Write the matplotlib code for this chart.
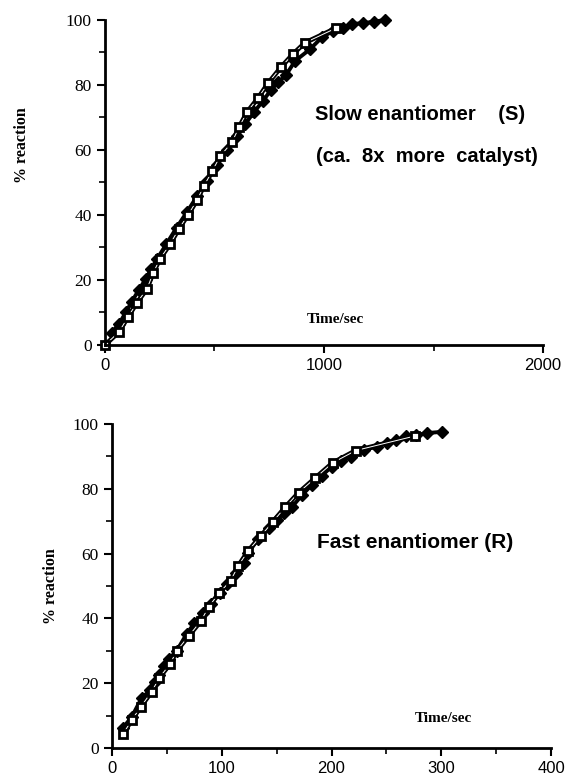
import matplotlib
matplotlib.use("Agg")
import matplotlib.pyplot as plt
from matplotlib.ticker import MultipleLocator

# top panel: slow enantiomer (S)
slow_sq_t = [0, 64, 105, 146, 192, 219, 251, 297, 338, 379, 420, 452, 489, 525,
             580, 612, 648, 699, 744, 804, 858, 913, 1055]
slow_sq_p = [0, 4, 8.6, 13, 17.3, 22, 26.5, 31, 35.8, 40, 44.5, 49, 53.4, 58,
             62.4, 67, 71.6, 76, 80.5, 85.5, 89.5, 93, 97.5]
slow_fd_t = [30, 64, 95, 122, 155, 187, 212, 236, 280, 327, 375, 420, 465, 512,
             557, 603, 640, 680, 720, 757, 790, 826, 868, 936, 991, 1041, 1085,
             1128, 1178, 1228, 1279]
slow_fd_p = [3.8, 6.5, 10, 13.3, 17, 20.4, 23.5, 26.3, 31, 36.1, 41, 45.7, 50.5,
             55.5, 60, 64.2, 68, 71.6, 75, 78.4, 80.8, 83, 87.4, 91, 94.7, 96.6,
             97.5, 98.8, 99, 99.5, 100]

# bottom panel: fast enantiomer (R)
fast_sq_t = [10, 18, 26, 36, 43, 53, 59, 70, 81, 88, 97.5, 108, 115, 124, 135.5,
             146.5, 158, 170, 185, 201, 222, 276]
fast_sq_p = [4.3, 8.6, 12.6, 17.3, 21.6, 26, 30, 34.6, 39.2, 43.5, 47.8, 51.6,
             56.2, 60.8, 65.4, 69.8, 74.4, 78.8, 83.3, 88, 91.8, 96.3]
fast_fd_t = [10, 18, 27, 35, 39, 43, 47, 52, 59, 68, 75, 83, 90, 98, 105, 113,
             120, 124, 133, 143, 150, 157, 164, 173, 182, 191, 200, 209, 218, 230,
             241, 251, 259, 268, 277, 287, 301]
fast_fd_p = [6.2, 9.6, 15.4, 17.9, 20.4, 22.5, 25.3, 27.5, 30, 35.2, 38.5, 41.7,
             44.5, 47.8, 50.7, 54, 57, 60.2, 64.5, 67.9, 70.5, 72.5, 74.4, 78, 81.2,
             84, 86.8, 88.5, 89.9, 92, 93, 94.2, 95.1, 96.3, 96.6, 97.2, 97.6]

SERIF = "Liberation Serif"
SANS = "Liberation Sans"

fig = plt.figure(figsize=(5.66, 7.81), dpi=100)
ax1 = fig.add_axes([0.1855, 0.5583, 0.7739, 0.4161])
ax2 = fig.add_axes([0.1979, 0.0423, 0.7756, 0.4148])


def draw(ax, st, sp, ft, fp):
    ax.plot(ft, fp, color="black", lw=2.8, marker="D", ms=6.5,
            mfc="black", mec="black", zorder=3)
    ax.plot(st, sp, color="black", lw=3.4, zorder=4)
    ax.plot(st, sp, color="white", lw=0.7, zorder=5)
    ax.plot(st, sp, ls="none", marker="s", ms=5.5, mfc="white", mec="black",
            mew=2.0, zorder=6)


def style(ax, xmax, xmajor, label_xy):
    ax.set_xlim(0, xmax)
    ax.set_ylim(0, 100)
    for s in ("top", "right"):
        ax.spines[s].set_visible(False)
    for s in ("left", "bottom"):
        ax.spines[s].set_linewidth(2)
    ax.xaxis.set_major_locator(MultipleLocator(xmajor))
    ax.xaxis.set_minor_locator(MultipleLocator(xmajor / 2))
    ax.yaxis.set_major_locator(MultipleLocator(20))
    ax.yaxis.set_minor_locator(MultipleLocator(10))
    ax.tick_params(which="major", length=6, width=1.5, direction="out")
    ax.tick_params(which="minor", length=4, width=1.2, direction="out")
    for lab in ax.get_yticklabels():
        lab.set_fontfamily(SERIF)
        lab.set_fontsize(12.5)
    for lab in ax.get_xticklabels():
        lab.set_fontfamily(SANS)
        lab.set_fontsize(12)
    ax.set_ylabel("% reaction", fontfamily=SERIF, fontweight="bold",
                  fontsize=11.5)
    ax.yaxis.set_label_coords(*label_xy)
    for spine in ax.spines.values():
        spine.set_zorder(7)


draw(ax1, slow_sq_t, slow_sq_p, slow_fd_t, slow_fd_p)
style(ax1, 2000, 1000, (-0.172, 0.615))
ax1.text(1438, 71, "Slow enantiomer    (S)", ha="center", va="center",
         fontfamily=SANS, fontweight="bold", fontsize=14.5)
ax1.text(1470, 58, "(ca.  8x  more  catalyst)", ha="center", va="center",
         fontfamily=SANS, fontweight="bold", fontsize=14.5)
ax1.text(1050, 7.7, "Time/sec", ha="center", va="center",
         fontfamily=SERIF, fontweight="bold", fontsize=11)

draw(ax2, fast_sq_t, fast_sq_p, fast_fd_t, fast_fd_p)
style(ax2, 400, 100, (-0.12, 0.5))
ax2.text(276, 63.3, "Fast enantiomer (R)", ha="center", va="center",
         fontfamily=SANS, fontweight="bold", fontsize=15)
ax2.text(302, 9, "Time/sec", ha="center", va="center",
         fontfamily=SERIF, fontweight="bold", fontsize=11)

for ax in (ax1, ax2):
    for line in ax.get_lines():
        line.set_clip_on(False)

fig.savefig("out.png", dpi=100)
